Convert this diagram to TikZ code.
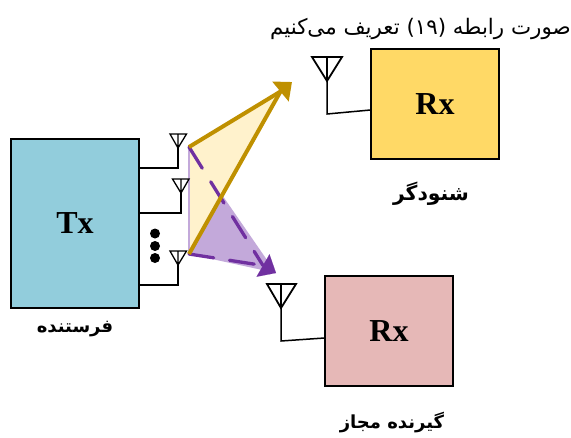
\documentclass[tikz,border=0pt]{standalone}
\usepackage{fontspec}
\usetikzlibrary{arrows.meta}
\setmainfont{Liberation Serif}
\newfontfamily\arabicfont[Script=Arabic]{DejaVu Sans}
\TeXXeTstate=1
\definecolor{txfill}{HTML}{92CDDC}
\definecolor{rxa}{HTML}{FFD966}
\definecolor{rxb}{HTML}{E6B8B7}
\definecolor{gold}{HTML}{BF9000}
\definecolor{pur}{HTML}{7030A0}
\definecolor{lightgold}{HTML}{FFF2CC}
\definecolor{lightpur}{HTML}{C3A9DA}
\tikzset{
  blockbox/.style={draw=black,line width=1.2pt,minimum width=128pt,inner sep=0pt,font=\bfseries\fontsize{32}{32}\selectfont},
  wire/.style={draw=black,line width=1.2pt},
  rxwire/.style={draw=black,line width=1.5pt},
  ant/.style={draw=black,line width=1.3pt,line join=miter},
  rxant/.style={draw=black,line width=1.8pt,line join=miter},
  goldline/.style={draw=gold,line width=4pt},
  goldhead/.style={goldline,-{Triangle[length=15pt,width=25pt,fill=gold]}},
  purline/.style={draw=pur,line width=3.3pt,dash pattern=on 25pt off 16pt,line cap=round},
  purhead/.style={draw=pur,line width=0.1pt,-{Triangle[length=15pt,width=26pt,fill=pur]}},
  faLabel/.style={inner sep=0pt,font=\arabicfont\bfseries\fontsize{18}{20}\selectfont},
  dot/.style={circle,fill=black,inner sep=0pt,minimum size=10pt},
}
\begin{document}
\begin{tikzpicture}[x=1pt,y=-1pt]
\useasboundingbox (0,0) rectangle (571,437);
% beam areas
\coordinate (P1) at (189,147);
\coordinate (P3) at (189,254);
\coordinate (GT) at (292,82);
\coordinate (GB) at (280.5,91.5);
\coordinate (VT) at (276,273);
\coordinate (VB) at (263,265.5);
\fill[lightpur] (P1) -- (VT) -- (P3) -- cycle;
\fill[lightgold] (P1) -- (GB) -- (P3) -- cycle;
\draw[lightpur,line width=1.2pt] (P1) -- (P3);
% boxes
\node[blockbox,fill=txfill,minimum height=169pt] (tx) at (75,223.5) {Tx};
\node[blockbox,fill=rxa,minimum height=110pt] (rx1) at (435,104) {Rx};
\node[blockbox,fill=rxb,minimum height=110pt] (rx2) at (389,331) {Rx};
% transmit antennas
\coordinate (a1) at (178,148);
\coordinate (a2) at (181,193);
\coordinate (a3) at (178,265);
\draw[ant] (170,134) -- (186.5,134) -- (a1) -- cycle (178,134) -- (a1);
\draw[ant] (172.5,179) -- (189,179) -- (a2) -- cycle (181,179) -- (a2);
\draw[ant] (170,251) -- (186.5,251) -- (a3) -- cycle (178,251) -- (a3);
\draw[wire] (a1) |- (tx.east |- 0,168);
\draw[wire] (a2) |- (tx.east |- 0,213);
\draw[wire] (a3) |- (tx.east |- 0,285);
\node[dot] (d1) at (155,233.5) {};
\node[dot] (d2) at (155,246) {};
\node[dot] (d3) at (155,258) {};
% receive antennas
\coordinate (b1) at (327,81);
\coordinate (b2) at (281,308);
\draw[rxant] (312,57) -- (342,57) -- (b1) -- cycle (327,57) -- (b1);
\draw[rxant] (267,284) -- (296,284) -- (b2) -- cycle (281,284) -- (b2);
\draw[rxwire] (b1) -- (327,114) -- (rx1.west |- 0,110);
\draw[rxwire] (b2) -- (281,341) -- (rx2.west |- 0,338);
% beams
\draw[purline] (P1) -- (VB);
\draw[purline] (P3) -- (VB);
\draw[purhead] (VB) -- (VT);
\draw[goldhead] (P1) -- (GB) -- (GT);
\draw[goldline] (P3) -- (GB);
% labels
\node[inner sep=0pt,anchor=east,font=\arabicfont\fontsize{21.4}{24}\selectfont] (title) at (571,29) {\beginR صورت رابطه (۱۹) تعریف می‌کنیم\endR};
\node[faLabel] (l1) at (75,329) {\beginR فرستنده\endR};
\node[faLabel,scale=1.13] (l2) at (431,194) {\beginR شنودگر\endR};
\node[faLabel] (l3) at (392,423) {\beginR گیرنده مجاز\endR};
\end{tikzpicture}
\end{document}
